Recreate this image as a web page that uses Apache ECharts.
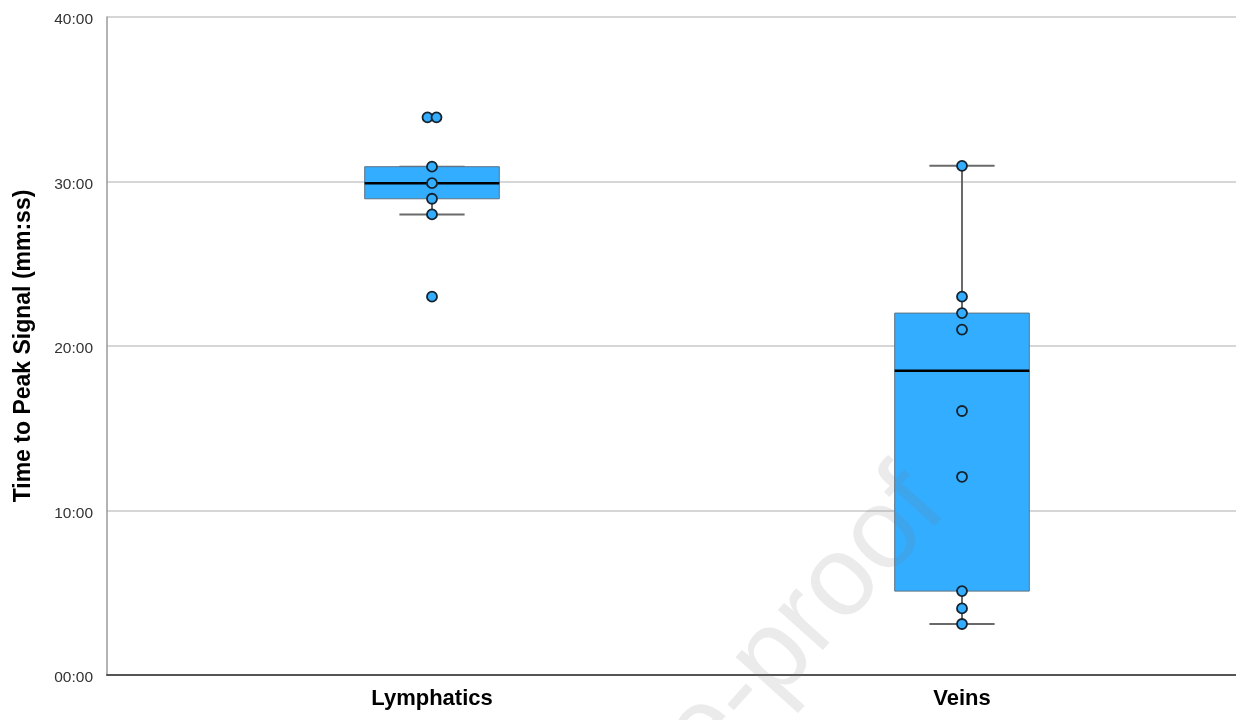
<!DOCTYPE html>
<html>
<head>
<meta charset="utf-8">
<script src="https://cdn.jsdelivr.net/npm/echarts@6/dist/echarts.min.js"></script>
<style>
html,body{margin:0;padding:0;background:#fff;}
#c{width:1236px;height:720px;}
</style>
</head>
<body>
<div id="c"></div>
<script>
// ---- data (minutes) ----
const categories = ['Lymphatics', 'Veins'];
// [low whisker, Q1, median, Q3, high whisker]
const lymphBox = [28.0, 28.95, 29.9, 30.9, 30.9];
const veinBox = [3.1, 5.1, 18.5, 22.0, 30.95];
const lymphPoints = [33.9, 33.9, 30.9, 29.9, 28.95, 28.0, 23.0];
const veinPoints = [30.95, 23.0, 22.0, 21.0, 16.05, 12.05, 5.1, 4.05, 3.1];
const yTicks = [0, 10, 20, 30, 40];
const yTitle = 'Time to Peak Signal (mm:ss)';
const watermark = 'Journal Pre-proof';

function mmss(v) {
  const total = Math.round(v * 60);
  const m = Math.floor(total / 60), s = total % 60;
  return String(m).padStart(2, '0') + ':' + String(s).padStart(2, '0');
}

const boxData = [[0].concat(lymphBox), [1].concat(veinBox)];
const jitter = { '0-0': -4.5, '0-1': 4.5 };
const pointData = [];
[lymphPoints, veinPoints].forEach((arr, ci) => {
  arr.forEach((v, i) => {
    const off = jitter[ci + '-' + i] || 0;
    pointData.push({ value: [ci, v], symbolOffset: [off, 0] });
  });
});

const font = "'Liberation Sans', Arial, sans-serif";
const chart = echarts.init(document.getElementById('c'));
chart.setOption({
  animation: false,
  backgroundColor: '#fff',
  grid: [
    { left: 107, right: 0, top: 17, bottom: 45 },
    { left: 167, width: 1060, top: 17, bottom: 45 }
  ],
  xAxis: [
    {
      gridIndex: 0, type: 'category', data: [''],
      axisLine: { show: true, lineStyle: { color: '#555', width: 2 } },
      axisTick: { show: false }, axisLabel: { show: false }, splitLine: { show: false }
    },
    {
      gridIndex: 1, type: 'category', data: categories,
      axisLine: { show: false }, axisTick: { show: false }, splitLine: { show: false },
      axisLabel: { fontFamily: font, fontSize: 22, fontWeight: 'bold', color: '#000', margin: 13 }
    }
  ],
  yAxis: [
    {
      gridIndex: 0, type: 'value', min: yTicks[0], max: yTicks[yTicks.length - 1], interval: 10,
      name: yTitle, nameLocation: 'middle', nameGap: 72,
      nameTextStyle: { fontFamily: font, fontSize: 23, fontWeight: 'bold', color: '#000' },
      axisLine: { show: true, lineStyle: { color: '#9a9a9a', width: 1.5 } },
      axisTick: { show: false },
      axisLabel: { fontFamily: font, fontSize: 15.5, color: '#333', margin: 14, formatter: mmss,
                   verticalAlign: 'top', lineHeight: 6 },
      splitLine: { show: true, lineStyle: { color: '#d6d6d6', width: 2 } }
    },
    {
      gridIndex: 1, type: 'value', min: yTicks[0], max: yTicks[yTicks.length - 1],
      show: false, splitLine: { show: false }
    }
  ],
  series: [
    {
      type: 'custom', xAxisIndex: 1, yAxisIndex: 1, z: 3,
      data: boxData,
      renderItem: function (params, api) {
        const x = api.value(0);
        const low = api.coord([x, api.value(1)]);
        const q1 = api.coord([x, api.value(2)]);
        const med = api.coord([x, api.value(3)]);
        const q3 = api.coord([x, api.value(4)]);
        const high = api.coord([x, api.value(5)]);
        const band = api.size([1, 0])[0];
        const bw = band * 0.254, cw = band * 0.123;
        const cx = low[0];
        const ws = { stroke: '#6a6a6a', lineWidth: 2 };
        return {
          type: 'group',
          children: [
            { type: 'line', shape: { x1: cx, y1: low[1], x2: cx, y2: q1[1] }, style: ws },
            { type: 'line', shape: { x1: cx, y1: q3[1], x2: cx, y2: high[1] }, style: ws },
            { type: 'line', shape: { x1: cx - cw / 2, y1: low[1], x2: cx + cw / 2, y2: low[1] }, style: ws },
            { type: 'line', shape: { x1: cx - cw / 2, y1: high[1], x2: cx + cw / 2, y2: high[1] }, style: ws },
            { type: 'rect', shape: { x: cx - bw / 2, y: q3[1], width: bw, height: q1[1] - q3[1] },
              style: { fill: '#33adff', stroke: '#5d7384', lineWidth: 1 } },
            { type: 'line', shape: { x1: cx - bw / 2, y1: med[1], x2: cx + bw / 2, y2: med[1] },
              style: { stroke: '#000', lineWidth: 2.5 } }
          ]
        };
      }
    },
    {
      type: 'scatter', xAxisIndex: 1, yAxisIndex: 1, z: 5,
      data: pointData, symbol: 'circle', symbolSize: 10,
      itemStyle: { color: '#33adff', borderColor: '#16232d', borderWidth: 1.8, opacity: 1 }
    }
  ],
  graphic: [
    {
      type: 'text', z: 100, x: 968, y: 527, rotation: 48 * Math.PI / 180,
      style: {
        text: watermark, fontFamily: font, fontSize: 114,
        fill: 'rgba(120,120,120,0.15)', align: 'right', verticalAlign: 'bottom'
      }
    }
  ]
});
</script>
</body>
</html>
